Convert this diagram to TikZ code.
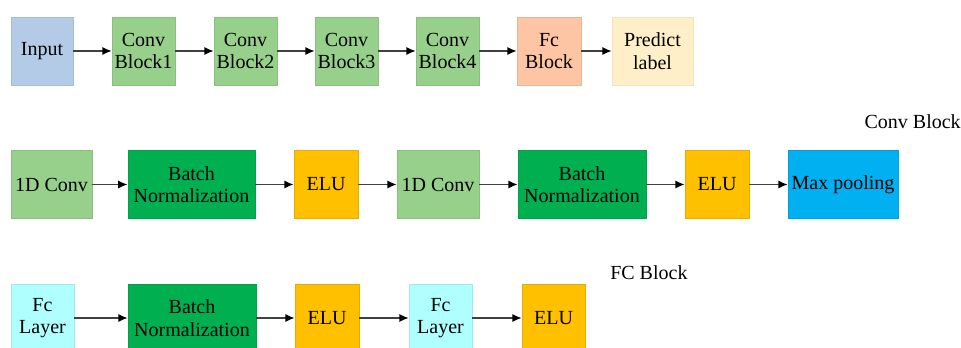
\documentclass[tikz,border=0pt]{standalone}
\usepackage{fontspec}
\setmainfont{Liberation Serif}
\usetikzlibrary{arrows.meta}

\definecolor{inblue}{HTML}{B4CBE7}
\definecolor{convgreen}{HTML}{97D08B}
\definecolor{fcsalmon}{HTML}{FDC5A3}
\definecolor{predyellow}{HTML}{FFEFC8}
\definecolor{bngreen}{HTML}{00B050}
\definecolor{eluorange}{HTML}{FFC000}
\definecolor{poolblue}{HTML}{00B0F0}
\definecolor{fccyan}{HTML}{B0FFFF}
\definecolor{linegray}{HTML}{404040}

\begin{document}
\begin{tikzpicture}[x=0.75pt, y=-0.75pt]
  \tikzstyle{blk}=[minimum height=51pt, inner sep=0pt, align=center, line width=0.4pt,
                   font=\fontsize{15}{17}\selectfont]
  \tikzstyle{inp}=[fill=inblue, draw=inblue!92!black]
  \tikzstyle{conv}=[fill=convgreen, draw=convgreen!92!black]
  \tikzstyle{fc}=[fill=fcsalmon, draw=fcsalmon!92!black]
  \tikzstyle{pred}=[fill=predyellow, draw=predyellow!95!black]
  \tikzstyle{bn}=[fill=bngreen, draw=bngreen!92!black]
  \tikzstyle{elu}=[fill=eluorange, draw=eluorange!90!black]
  \tikzstyle{pool}=[fill=poolblue, draw=poolblue!92!black]
  \tikzstyle{fcl}=[fill=fccyan, draw=fccyan!92!black]
  \tikzstyle{flow}=[draw=linegray, line width=1.1pt, -{Latex[length=7pt, width=6pt, color=black]}]
  \tikzstyle{title}=[font=\fontsize{15}{17}\selectfont, inner sep=0pt]

  \clip (0,0) rectangle (961,347);

  % network overview
  \node[blk, inp,  minimum width=46.5pt] (in)   at (42,    51) {Input};
  \node[blk, conv, minimum width=47.2pt] (cb1)  at (143.5, 51) {Conv\\Block1};
  \node[blk, conv, minimum width=47.2pt] (cb2)  at (245.5, 51) {Conv\\Block2};
  \node[blk, conv, minimum width=47.2pt] (cb3)  at (346.5, 51) {Conv\\Block3};
  \node[blk, conv, minimum width=47.2pt] (cb4)  at (447.5, 51) {Conv\\Block4};
  \node[blk, fc,   minimum width=48pt]   (fcb)  at (549,   51) {Fc\\Block};
  \node[blk, pred, minimum width=60.7pt] (pred) at (652.5, 51) {Predict\\label};

  \path[flow] (in) edge (cb1);
  \path[flow] (cb1) edge (cb2);
  \path[flow] (cb2) edge (cb3);
  \path[flow] (cb3) edge (cb4);
  \path[flow] (cb4) edge (fcb);
  \path[flow] (fcb) edge (pred);

  % conv block
  \node[title, anchor=east] (convtitle) at (961, 122) {Conv Block};
  \node[blk, conv, minimum width=61pt]   (c1)  at (51.5, 184.5) {1D Conv};
  \node[blk, bn,   minimum width=95.5pt] (bn1) at (191.5, 184.5) {Batch\\Normalization};
  \node[blk, elu,  minimum width=48pt]   (e1)  at (326,  184.5) {ELU};
  \node[blk, conv, minimum width=61.5pt] (c2)  at (438,  184.5) {1D Conv};
  \node[blk, bn,   minimum width=96pt]   (bn2) at (582,  184.5) {Batch\\Normalization};
  \node[blk, elu,  minimum width=48pt]   (e2)  at (717,  184.5) {ELU};
  \node[blk, pool, minimum width=82.5pt] (mp)  at (843,  184.5) {Max pooling};

  \path[flow] (c1) edge (bn1);
  \path[flow] (bn1) edge (e1);
  \path[flow] (e1) edge (c2);
  \path[flow] (c2) edge (bn2);
  \path[flow] (bn2) edge (e2);
  \path[flow] (e2) edge (mp);

  % fc block
  \node[title, anchor=west] (fctitle) at (610, 273) {FC Block};
  \node[blk, fcl, minimum width=47.2pt] (f1)  at (42.5,  318) {Fc\\Layer};
  \node[blk, bn,  minimum width=96pt]   (bn3) at (192,   318) {Batch\\Normalization};
  \node[blk, elu, minimum width=48pt]   (e3)  at (327,   318) {ELU};
  \node[blk, fcl, minimum width=47.2pt] (f2)  at (440.5, 318) {Fc\\Layer};
  \node[blk, elu, minimum width=47.2pt] (e4)  at (553.5, 318) {ELU};

  \path[flow] (f1) edge (bn3);
  \path[flow] (bn3) edge (e3);
  \path[flow] (e3) edge (f2);
  \path[flow] (f2) edge (e4);
\end{tikzpicture}
\end{document}
